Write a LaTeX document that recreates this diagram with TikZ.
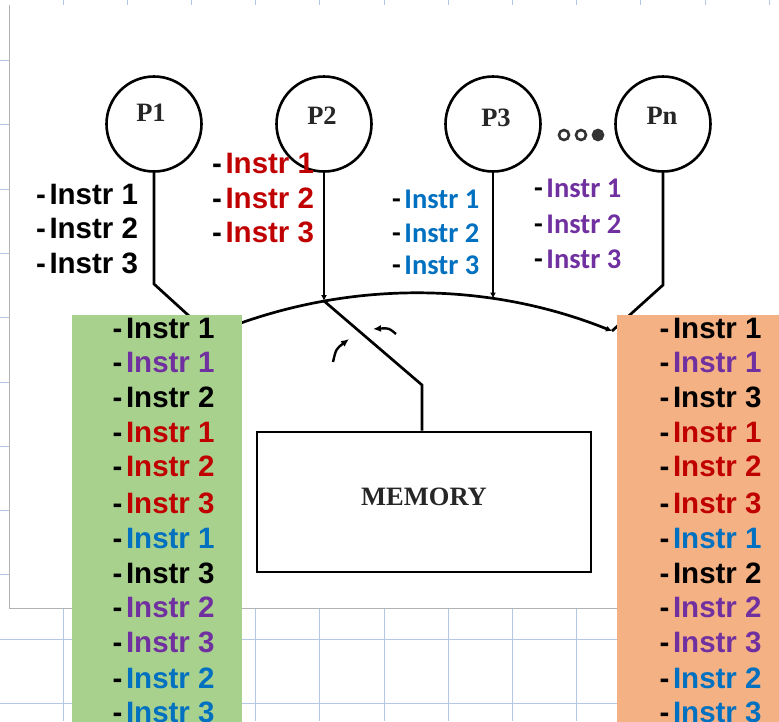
\documentclass[tikz,border=0pt]{standalone}
\usepackage{fontspec}
\setmainfont{Liberation Serif}
\newfontfamily\arialfont{Liberation Sans}
\newfontfamily\calfont{Carlito}
\usetikzlibrary{arrows.meta}
\definecolor{gridblue}{RGB}{180,199,231}
\definecolor{instrred}{RGB}{192,0,0}
\definecolor{instrblue}{RGB}{0,112,192}
\definecolor{instrpurple}{RGB}{112,48,160}
\definecolor{boxgreen}{RGB}{169,209,142}
\definecolor{boxorange}{RGB}{244,177,131}
% one list entry: black dash, coloured instruction
\newcommand\ins[2]{-\hspace{3.5pt}\textcolor{#1}{Instr #2}}

\begin{document}
\begin{tikzpicture}[x=1pt,y=-1pt,
  proc/.style={circle,draw,line width=2.6pt,minimum size=95pt,inner sep=0pt},
  plabel/.style={inner sep=0pt,text=black!85,font=\bfseries\fontsize{26.5}{26.5}\selectfont},
  wire/.style={line width=2.7pt},
  tip/.style={-{Latex[length=6pt,width=6pt]}},
  ins/.style={anchor=base west,inner sep=0pt,font=\arialfont\bfseries\fontsize{29.5}{29.5}\selectfont},
  insc/.style={anchor=base west,inner sep=0pt,font=\calfont\bfseries\fontsize{28.5}{28.5}\selectfont},
  dot/.style={circle,draw=black!80,line width=2.6pt,inner sep=0pt,minimum size=10pt},
]
\useasboundingbox (0,0) rectangle (779,721);
\clip (0,0) rectangle (779,721);

% sheet grid behind the drawing
\foreach \k in {0,...,11}
  \draw[gridblue,line width=1pt] ({63+64.2*\k},0) -- ({63+64.2*\k},721);
\foreach \k in {0,...,10}
  \draw[gridblue,line width=1pt] (0,{60.5+64.3*\k}) -- (779,{60.5+64.3*\k});

% white sheet of the drawing
\fill[white] (9.5,5) rectangle (790,608);
\draw[black!30,line width=1pt] (9.5,5) -- (9.5,608) -- (790,608);

% processors
\node[proc] (p1) at (154,124) {};
\node[proc] (p2) at (324,124) {};
\node[proc] (p3) at (493,124) {};
\node[proc] (pn) at (663,124) {};
\node[plabel] (t1) at (151,113) {P1};
\node[plabel] (t2) at (322,116) {P2};
\node[plabel] (t3) at (496,118) {P3};
\node[plabel] (tn) at (662,116) {Pn};

% ellipsis between P3 and Pn
\node[dot] (d1) at (564,135) {};
\node[dot] (d2) at (581,135) {};
\node[dot,fill=black!80] (d3) at (598,135) {};

% memory
\node[draw,line width=2.7pt,minimum width=334pt,minimum height=140pt,
      text=black!85,font=\bfseries\fontsize{26.5}{26.5}\selectfont] (mem) at (424,502) {\raisebox{10pt}{MEMORY}};

% bus and switch
\coordinate (j1) at (210,335);
\coordinate (j2) at (324,301);
\coordinate (j3) at (493,298.5);
\coordinate (jn) at (612,331);
\coordinate (c1) at (154,284);
\coordinate (cn) at (663,285);
\coordinate (cm) at (422,385);

\draw[wire,tip] (j1) .. controls (338.2,280.5) and (482.7,279.1) .. (jn);
\draw[wire] (p1.south) -- (c1) -- (j1);
\draw[wire,tip] (p2.south) -- (j2);
\draw[wire,tip] (p3.south) -- (j3);
\draw[wire] (pn.south) -- (cn) -- (jn);
\draw[wire] (j2) -- (cm) -- (cm |- mem.north);

% rotation marks of the switch
\coordinate (r1s) at (333,362);
\coordinate (r1e) at (349,339);
\coordinate (r2s) at (396,334);
\coordinate (r2e) at (373,329);
\draw[line width=2.4pt,-{Latex[length=8pt,width=7pt]}] (r1s) .. controls (336,349) .. (r1e);
\draw[line width=2.4pt,-{Latex[length=8pt,width=7pt]}] (r2s) .. controls (389,328) .. (r2e);

% instructions issued by each processor
\node[ins] (a1) at (36,204) {\ins{black}{1}};
\node[ins] (a2) at (36,238) {\ins{black}{2}};
\node[ins] (a3) at (36,273) {\ins{black}{3}};
\node[ins] (b1) at (212,173) {\ins{instrred}{1}};
\node[ins] (b2) at (212,208) {\ins{instrred}{2}};
\node[ins] (b3) at (212,242) {\ins{instrred}{3}};
\node[insc] (c1l) at (392,208) {\ins{instrblue}{1}};
\node[insc] (c2l) at (392,242) {\ins{instrblue}{2}};
\node[insc] (c3l) at (392,274) {\ins{instrblue}{3}};
\node[insc] (n1) at (534,197) {\ins{instrpurple}{1}};
\node[insc] (n2) at (534,233) {\ins{instrpurple}{2}};
\node[insc] (n3) at (534,268) {\ins{instrpurple}{3}};

% two possible interleavings
\fill[boxgreen] (72,315) rectangle (242,730);
\fill[boxorange] (617,315) rectangle (790,730);
\foreach \y/\c/\n [count=\i] in {338/black/1,372/instrpurple/1,407/black/2,
    442/instrred/1,476/instrred/2,513/instrred/3,548/instrblue/1,583/black/3,
    617/instrpurple/2,652/instrpurple/3,688/instrblue/2,722/instrblue/3}
  \node[ins] (g\i) at (112.5,\y) {\ins{\c}{\n}};
\foreach \y/\c/\n [count=\i] in {338/black/1,372/instrpurple/1,407/black/3,
    442/instrred/1,476/instrred/2,513/instrred/3,548/instrblue/1,583/black/2,
    617/instrpurple/2,652/instrpurple/3,688/instrblue/2,722/instrblue/3}
  \node[ins] (o\i) at (659.5,\y) {\ins{\c}{\n}};
\end{tikzpicture}
\end{document}
